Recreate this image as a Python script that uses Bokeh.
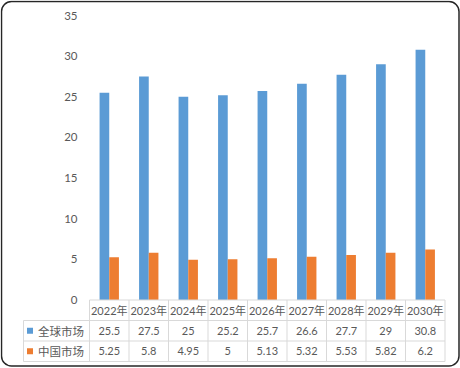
from bokeh.plotting import figure
from bokeh.models import Range1d, BoxAnnotation
from bokeh.core.properties import value
from bokeh.embed import file_html
from bokeh.resources import INLINE

# ---- data ----
years = ["2022年", "2023年", "2024年", "2025年", "2026年", "2027年", "2028年", "2029年", "2030年"]
global_market = [25.5, 27.5, 25, 25.2, 25.7, 26.6, 27.7, 29, 30.8]
china_market = [5.25, 5.8, 4.95, 5, 5.13, 5.32, 5.53, 5.82, 6.2]
series_names = ["全球市场", "中国市场"]
series_colors = ["#5B9BD5", "#ED7D31"]
y_ticks = [0, 5, 10, 15, 20, 25, 30, 35]
y_max = 35

# ---- layout (pixels inside the figure) ----
W, H = 460, 368
COL = 39.5          # width of one category column
LEFT = 89           # left edge of first category column
Y_TOP = 15          # pixel of y_max
Y_ZERO = 299.5      # pixel of 0
ROW = 20.5          # table row height
LABEL_COL_LEFT = 23
ppu = (Y_ZERO - Y_TOP) / y_max
n = len(years)

TEXT = "#595959"
GRID = "#d9d9d9"
LATIN = value("Lato, 'Noto Sans CJK SC'")
CJK = value("'Noto Sans CJK SC'")

p = figure(width=W, height=H, output_backend="svg", toolbar_location=None, tools="",
           x_range=Range1d(-LEFT / COL, (W - LEFT) / COL),
           y_range=Range1d(-(H - Y_ZERO) / ppu, y_max + Y_TOP / ppu),
           x_axis_location=None, y_axis_location=None,
           min_border=0, outline_line_color=None)
p.extra_x_ranges = {"px": Range1d(0, W)}
p.extra_y_ranges = {"px": Range1d(H, 0)}
p.xgrid.grid_line_color = None
p.ygrid.grid_line_color = None
p.background_fill_color = "white"
p.border_fill_color = "white"

# ---- bars ----
centers = [i + 0.5 for i in range(n)]
bw = 0.245
p.vbar(x=[c - bw / 2 for c in centers], width=bw, top=global_market, bottom=0,
       fill_color=series_colors[0], line_color=None)
p.vbar(x=[c + bw / 2 for c in centers], width=bw, top=china_market, bottom=0,
       fill_color=series_colors[1], line_color=None)

# ---- y tick labels ----
p.text(x=[LEFT - 12] * len(y_ticks), y=y_ticks, text=[str(t) for t in y_ticks],
       x_range_name="px", text_align="right", text_baseline="middle",
       text_font=LATIN, text_font_size="11.5px", text_color=TEXT)

# ---- data table ----
col_x = [LEFT + i * COL for i in range(n + 1)]
rows_y = [Y_ZERO + k * ROW for k in range(4)]
x0, y0, x1, y1 = [], [], [], []
x0.append(col_x[0]); x1.append(col_x[-1]); y0.append(rows_y[0]); y1.append(rows_y[0])
for k in (1, 2, 3):
    x0.append(LABEL_COL_LEFT); x1.append(col_x[-1]); y0.append(rows_y[k]); y1.append(rows_y[k])
for cx in col_x:
    x0.append(cx); x1.append(cx); y0.append(rows_y[0]); y1.append(rows_y[3])
x0.append(LABEL_COL_LEFT); x1.append(LABEL_COL_LEFT); y0.append(rows_y[1]); y1.append(rows_y[3])
p.segment(x0=x0, y0=y0, x1=x1, y1=y1, x_range_name="px", y_range_name="px",
          line_color=GRID, line_width=1)

mid_x = [LEFT + (i + 0.5) * COL for i in range(n)]
row_mid = [rows_y[k] + ROW / 2 for k in range(3)]
p.text(x=mid_x, y=[row_mid[0]] * n, text=years, x_range_name="px", y_range_name="px",
       text_align="center", text_baseline="middle", text_font=LATIN,
       text_font_size="11px", text_color=TEXT)
for k, vals in enumerate([global_market, china_market]):
    p.text(x=mid_x, y=[row_mid[k + 1]] * n, text=[f"{v:g}" for v in vals],
           x_range_name="px", y_range_name="px", text_align="center",
           text_baseline="middle", text_font=LATIN, text_font_size="11px",
           text_color=TEXT)
    p.rect(x=[LABEL_COL_LEFT + 6.5], y=[row_mid[k + 1]], width=6, height=6,
           x_range_name="px", y_range_name="px", fill_color=series_colors[k],
           line_color=None)
    p.text(x=[LABEL_COL_LEFT + 14.5], y=[row_mid[k + 1]], text=[series_names[k]],
           x_range_name="px", y_range_name="px", text_align="left",
           text_baseline="middle", text_font=CJK, text_font_size="11.5px",
           text_color=TEXT)

# ---- rounded chart border ----
p.add_layout(BoxAnnotation(left=1, right=W - 1.5, top=1, bottom=H - 2.5,
                           x_range_name="px", y_range_name="px",
                           fill_color=None, fill_alpha=0, line_color="#262626",
                           line_alpha=1, line_width=1.5, border_radius=10))

open("out.html", "w").write(file_html(p, INLINE))
